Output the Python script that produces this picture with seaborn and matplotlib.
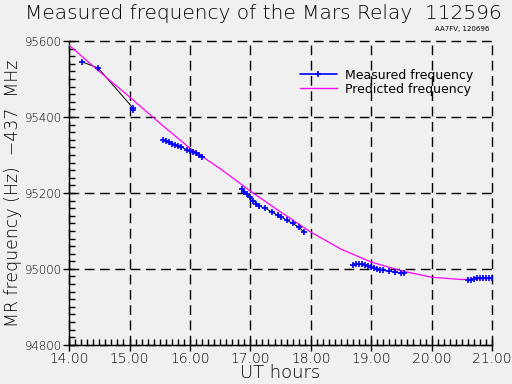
import numpy as np
import pandas as pd
import seaborn as sns
import matplotlib.pyplot as plt
from matplotlib.ticker import MultipleLocator
from matplotlib.lines import Line2D

# measured frequency, five passes (UT hours, Hz offset from 437 MHz)
seg1_hours = [14.22, 14.48, 15.05, 15.05]
seg1_freq = [95545, 95529, 95425, 95418]

seg2_hours = [15.55, 15.60, 15.65, 15.70, 15.75, 15.80, 15.85, 15.95, 16.00, 16.05, 16.10, 16.15, 16.20]
seg2_freq = [95340, 95337, 95333, 95330, 95327, 95324, 95321, 95314, 95311, 95308, 95304, 95300, 95296]

seg3_hours = [16.86, 16.90, 16.95, 17.00, 17.05, 17.10, 17.15, 17.25, 17.35, 17.45, 17.50, 17.60, 17.70, 17.80, 17.89]
seg3_freq = [95210, 95203, 95196, 95190, 95180, 95172, 95165, 95160, 95150, 95142, 95138, 95128, 95120, 95110, 95097]

seg4_hours = [18.70, 18.75, 18.80, 18.85, 18.90, 18.95, 19.00, 19.05, 19.10, 19.15, 19.20, 19.30, 19.40, 19.50, 19.55]
seg4_freq = [95011, 95012, 95012, 95012, 95010, 95008, 95005, 95003, 95000, 94998, 94996, 94994, 94991, 94989, 94988]

seg5_hours = [20.60, 20.65, 20.70, 20.75, 20.80, 20.85, 20.90, 20.95, 21.00]
seg5_freq = [94970, 94971, 94974, 94975, 94975, 94975, 94975, 94975, 94975]

# predicted frequency
pred_hours = [14.0, 14.5, 15.0, 15.5, 16.0, 16.5, 17.0, 17.5, 18.0, 18.5, 19.0, 19.5, 20.0, 20.5, 21.0]
pred_freq = [95589, 95520, 95453, 95384, 95318, 95264, 95205, 95150, 95097, 95052, 95018, 94995, 94978, 94972, 94975]

xticks = [14, 15, 16, 17, 18, 19, 20, 21]
yticks = [94800, 95000, 95200, 95400, 95600]

segments = [(seg1_hours, seg1_freq), (seg2_hours, seg2_freq), (seg3_hours, seg3_freq),
            (seg4_hours, seg4_freq), (seg5_hours, seg5_freq)]
frames = []
for i, (h, f) in enumerate(segments):
    frames.append(pd.DataFrame({'hours': h, 'freq': f, 'seg': i}))
measured = pd.concat(frames, ignore_index=True)
predicted = pd.DataFrame({'hours': pred_hours, 'freq': pred_freq})

sns.set_style('white')
plt.rcParams['font.family'] = ['DejaVu Sans']
plt.rcParams['text.color'] = 'black'
plt.rcParams['axes.labelcolor'] = 'black'
plt.rcParams['xtick.color'] = 'black'
plt.rcParams['ytick.color'] = 'black'

bg = '#f0f0f0'
fig = plt.figure(figsize=(5.12, 3.84), dpi=100, facecolor=bg)
ax = fig.add_axes([0.135, 0.102, 0.826, 0.791])
ax.set_facecolor(bg)

# thin black line joining measured points
for s, d in measured.groupby('seg'):
    ax.plot(d['hours'], d['freq'], color='black', lw=0.7, zorder=2)

sns.lineplot(data=predicted, x='hours', y='freq', color='magenta', lw=0.9, ax=ax, zorder=3)
sns.scatterplot(data=measured, x='hours', y='freq', marker='+', color='blue', s=16,
                linewidth=1.2, ax=ax, zorder=4)

ax.set_xlim(14, 21)
ax.set_ylim(94800, 95600)
ax.set_xticks(xticks)
ax.set_xticklabels([f'{t:.2f}' for t in xticks], fontsize=10, fontweight='light')
ax.set_yticks(yticks)
ax.set_yticklabels([str(t) for t in yticks], fontsize=8.5, fontweight='light')
ax.xaxis.set_minor_locator(MultipleLocator(0.1))
ax.yaxis.set_minor_locator(MultipleLocator(20))
ax.tick_params(which='major', direction='inout', length=8, width=1, color='black', pad=1)
ax.tick_params(which='minor', direction='in', length=4, width=1, color='black')
ax.tick_params(axis='x', which='both', bottom=True)
ax.tick_params(axis='y', which='both', left=True)

ax.grid(True, which='major', color='black', linestyle=(0, (7, 4)), lw=1.0)
for gl in ax.get_xgridlines() + ax.get_ygridlines():
    gl.set_clip_on(False)
for side in ['top', 'right']:
    ax.spines[side].set_visible(False)
for side in ['left', 'bottom']:
    ax.spines[side].set_color('black')
    ax.spines[side].set_linewidth(1.0)

ax.set_xlabel('UT hours', fontsize=13, fontweight='light', labelpad=-1)
ax.set_ylabel('MR frequency (Hz)  \u2212437  MHz', fontsize=12.5, fontweight='light', labelpad=2)

fig.text(0.515, 0.99, 'Measured frequency of the Mars Relay  112596', ha='center', va='top',
         fontsize=14.5, fontweight='light')
fig.text(0.955, 0.925, 'AA7FV, 120696', ha='right', va='center', fontsize=5)

# legend drawn like the original: line + markers
handles = [Line2D([0], [0], color='blue', lw=1.2, marker='+', markersize=4, markeredgewidth=1.2),
           Line2D([0], [0], color='magenta', lw=1)]
ax.legend(handles, ['Measured frequency', 'Predicted frequency'], loc='upper left',
          bbox_to_anchor=(0.53, 0.93), frameon=False, fontsize=9, handlelength=3,
          labelspacing=0.1, borderpad=0, handletextpad=0.6)

fig.savefig('out.png', dpi=100, facecolor=bg)
